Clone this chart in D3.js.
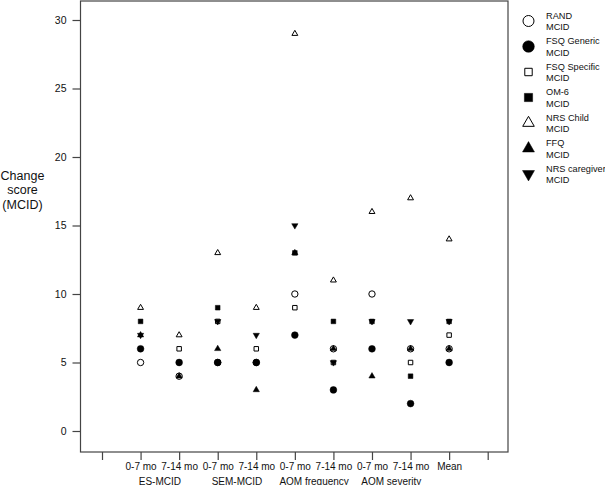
<!DOCTYPE html>
<html>
<head>
<meta charset="utf-8">
<script src="https://cdn.jsdelivr.net/npm/d3@7"></script>
<style>
  body { margin: 0; background: #fff; }
  text { font-family: "Liberation Sans", Arial, sans-serif; fill: #111; }
</style>
</head>
<body>
<div id="chart"></div>
<script>
// x positions 1..9, 0 and 10 are empty ticks
const tickLabels = ["", "0-7 mo", "7-14 mo", "0-7 mo", "7-14 mo", "0-7 mo", "7-14 mo", "0-7 mo", "7-14 mo", "Mean", ""];
const groupLabels = ["ES-MCID", "SEM-MCID", "AOM frequency", "AOM severity"];
const seriesNames = ["RAND", "FSQ Generic", "FSQ Specific", "OM-6", "NRS Child", "FFQ", "NRS caregiver"];

// values per position 1..9 (null = not shown)
const rand       = [5, 4, 5, 5, 10, 6, 10, 6, 6];
const fsqGeneric = [6, 5, 5, 5, 7, 3, 6, 2, 5];
const fsqSpecific= [null, 6, 8, 6, 9, 5, null, 5, 7];
const om6        = [8, null, 9, null, 13, 8, 8, 4, 8];
const nrsChild   = [9, 7, 13, 9, 29, 11, 16, 17, 14];
const ffq        = [7, 4, 6, 3, 13, 6, 4, 6, 6];
const nrsCare    = [7, null, 8, 7, 15, 5, 8, 8, 8];

const seriesValues = [rand, fsqGeneric, fsqSpecific, om6, nrsChild, ffq, nrsCare];
const yTicks = [0, 5, 10, 15, 20, 25, 30];

const W = 605, H = 485;
const svg = d3.select("#chart").append("svg")
  .attr("width", W).attr("height", H);

const x = d3.scaleLinear().domain([0, 10]).range([102, 487.7]);
const y = d3.scaleLinear().domain([0, 30]).range([431, 20]);
const frame = { left: 80.5, right: 508, top: 1, bottom: 452 };

// marker styles
const styles = [
  { sym: d3.symbolCircle, fill: false, rot: 0, size: 32, lsize: 95 },
  { sym: d3.symbolCircle, fill: true, rot: 0, size: 36, lsize: 107 },
  { sym: d3.symbolSquare, fill: false, rot: 0, size: 20, lsize: 55 },
  { sym: d3.symbolSquare, fill: true, rot: 0, size: 22, lsize: 68 },
  { sym: d3.symbolTriangle, fill: false, rot: 0, size: 15, lsize: 58 },
  { sym: d3.symbolTriangle, fill: true, rot: 0, size: 17, lsize: 62 },
  { sym: d3.symbolTriangle, fill: true, rot: 180, size: 17, lsize: 62 }
];

// frame
svg.append("rect")
  .attr("x", frame.left).attr("y", frame.top)
  .attr("width", frame.right - frame.left).attr("height", frame.bottom - frame.top)
  .attr("fill", "none").attr("stroke", "#444").attr("stroke-width", 1.2);

// y axis
const yAxis = svg.append("g")
  .attr("transform", `translate(${frame.left},0)`)
  .call(d3.axisLeft(y).tickValues(yTicks).tickSize(8).tickPadding(6));
yAxis.select(".domain").remove();
yAxis.selectAll(".tick line").attr("stroke", "#444").attr("stroke-width", 1.2);
yAxis.selectAll(".tick text").attr("font-size", 10.5).attr("fill", "#111")
  .style("font-family", "'Liberation Sans', Arial, sans-serif");

// x axis
const xAxis = svg.append("g")
  .attr("transform", `translate(0,${frame.bottom})`)
  .call(d3.axisBottom(x).tickValues(d3.range(0, 11)).tickSize(8).tickPadding(3)
    .tickFormat(d => tickLabels[d]));
xAxis.select(".domain").remove();
xAxis.selectAll(".tick line").attr("stroke", "#444").attr("stroke-width", 1.2);
xAxis.selectAll(".tick text").attr("font-size", 10).attr("fill", "#111")
  .style("font-family", "'Liberation Sans', Arial, sans-serif");

svg.append("g").selectAll("text")
  .data(groupLabels).enter().append("text")
  .attr("x", (d, i) => x(1.5 + 2 * i))
  .attr("y", 484.5)
  .attr("text-anchor", "middle")
  .attr("font-size", 10)
  .text(d => d);

// y title
svg.append("text")
  .attr("x", 22.5).attr("y", 179.5)
  .attr("text-anchor", "middle").attr("font-size", 12.5)
  .selectAll("tspan").data(["Change", "score", "(MCID)"]).enter().append("tspan")
  .attr("x", 22.5).attr("dy", (d, i) => i === 0 ? 0 : 14.5)
  .text(d => d);

// points
seriesValues.forEach((vals, s) => {
  const st = styles[s];
  svg.append("g").selectAll("path")
    .data(vals.map((v, i) => ({ pos: i + 1, v })).filter(d => d.v != null))
    .enter().append("path")
    .attr("d", d3.symbol().type(st.sym).size(st.size))
    .attr("transform", d => `translate(${x(d.pos)},${y(d.v)}) rotate(${st.rot})`)
    .attr("fill", st.fill ? "#000" : "#fff")
    .attr("stroke", "#000")
    .attr("stroke-width", st.fill ? 0.5 : 1);
});

// legend
const legend = svg.append("g");
seriesNames.forEach((name, s) => {
  const st = styles[s];
  const cy = 21 + s * 25.5;
  legend.append("path")
    .attr("d", d3.symbol().type(st.sym).size(st.lsize))
    .attr("transform", `translate(528.5,${cy}) rotate(${st.rot})`)
    .attr("fill", st.fill ? "#000" : "#fff")
    .attr("stroke", "#000")
    .attr("stroke-width", st.fill ? 0.5 : 1);
  legend.append("text").attr("x", 546).attr("y", cy - 2.5)
    .attr("font-size", 9.2).text(name);
  legend.append("text").attr("x", 546).attr("y", cy + 9)
    .attr("font-size", 9.2).text("MCID");
});
</script>
</body>
</html>
